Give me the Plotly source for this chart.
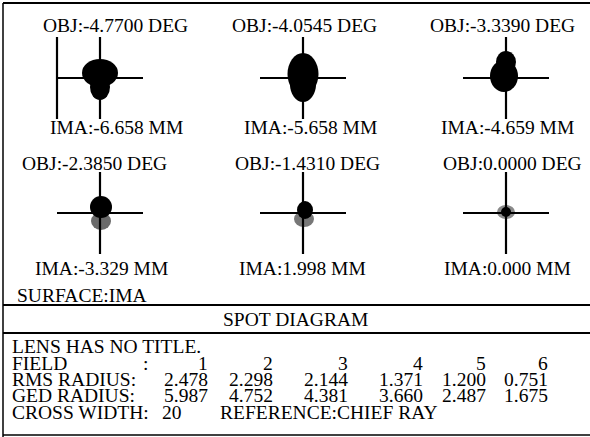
import plotly.graph_objects as go

# ---------------- data ----------------
fields = [1, 2, 3, 4, 5, 6]
obj_deg = [-4.7700, -4.0545, -3.3390, -2.3850, -1.4310, 0.0000]
ima_mm = [-6.658, -5.658, -4.659, -3.329, 1.998, 0.000]
rms_radius = [2.478, 2.298, 2.144, 1.371, 1.200, 0.751]
ged_radius = [5.987, 4.752, 4.381, 3.660, 2.487, 1.675]
cross_width = 20
reference = "CHIEF RAY"
surface = "IMA"

# spot clouds approximated as ellipses (plot units, y up), core + secondary part
core_dx = [0, 0, -2, 1, 2, 0]
core_dy = [5, 4, 2, 6, 3, 1]
core_rx = [18, 15.5, 14, 11, 8, 5]
core_ry = [14, 21, 16, 11, 9, 5]
sec_dx = [0, 0, 0, 1, 1, 0]
sec_dy = [-9, -6, 16, -8, -6, 1]
sec_rx = [10, 13, 10, 10, 10, 9]
sec_ry = [13, 18, 11, 9, 8, 7]
cross_half_h = 43
cross_half_v = 41

# ---------------- layout constants ----------------
W, H = 590, 437
FONT = "Liberation Serif"
FS = 19.5
COL_X = [100, 303, 506]
ROW_Y = [78, 213]
TITLE_X = [115, 304, 502, 95, 307, 512]
IMA_X = [116, 310, 507, 101, 302, 507]
TITLE_Y = [25, 163]
IMA_Y = [128, 268]
sec_color = ["black", "black", "black", "#6a6a6a", "#777777", "#8a8a8a"]
HALF = 50  # half size of each spot panel in px (1 unit = 1 px)


def px(x):
    return x / W


def py(y):
    return 1 - y / H


fig = go.Figure()
shapes = []
annotations = []
tfont = dict(family=FONT, size=FS, color="black")

for i, f in enumerate(fields):
    r, c = divmod(i, 3)
    cx, cy = COL_X[c], ROW_Y[r]
    n = "" if i == 0 else str(i + 1)
    xa, ya = "x" + n, "y" + n
    fig.layout["xaxis" + n] = dict(
        domain=[px(cx - HALF), px(cx + HALF)], range=[-HALF, HALF],
        visible=False, anchor=ya, fixedrange=True)
    fig.layout["yaxis" + n] = dict(
        domain=[py(cy + HALF), py(cy - HALF)], range=[-HALF, HALF],
        visible=False, anchor=xa, fixedrange=True)
    shapes.append(dict(type="circle", xref=xa, yref=ya,
                       x0=sec_dx[i] - sec_rx[i], x1=sec_dx[i] + sec_rx[i],
                       y0=sec_dy[i] - sec_ry[i], y1=sec_dy[i] + sec_ry[i],
                       fillcolor=sec_color[i], line=dict(width=0), layer="below"))
    shapes.append(dict(type="circle", xref=xa, yref=ya,
                       x0=core_dx[i] - core_rx[i], x1=core_dx[i] + core_rx[i],
                       y0=core_dy[i] - core_ry[i], y1=core_dy[i] + core_ry[i],
                       fillcolor="black", line=dict(width=0), layer="below"))
    xs = [-cross_half_h, cross_half_h, None, 0, 0]
    ys = [0, 0, None, -cross_half_v, cross_half_v]
    if i == 0:
        xs += [None, -cross_half_h, -cross_half_h]
        ys += [None, -cross_half_v, cross_half_v]
    fig.add_trace(go.Scatter(x=xs, y=ys, mode="lines", xaxis=xa, yaxis=ya,
                             line=dict(color="black", width=2.2),
                             hoverinfo="skip", showlegend=False))
    annotations.append(dict(text=f"OBJ:{obj_deg[i]:.4f} DEG", x=px(TITLE_X[i]),
                            y=py(TITLE_Y[r]), xref="paper", yref="paper", font=tfont,
                            xanchor="center", yanchor="middle", showarrow=False))
    annotations.append(dict(text=f"IMA:{ima_mm[i]:.3f} MM", x=px(IMA_X[i]),
                            y=py(IMA_Y[r]), xref="paper", yref="paper", font=tfont,
                            xanchor="center", yanchor="middle", showarrow=False))


def txt(s, x, y, anchor="left"):
    annotations.append(dict(text=s, x=px(x), y=py(y), xref="paper", yref="paper",
                            font=tfont, xanchor=anchor, yanchor="middle",
                            showarrow=False))


txt(f"SURFACE:{surface}", 15, 295)
txt("SPOT DIAGRAM", 295, 319, "center")
txt("LENS HAS NO TITLE.", 10, 346)
ROWS_Y = [363, 379, 395]
COLS_R = [210, 275, 350, 425, 488, 550]
txt("FIELD", 10, ROWS_Y[0])
txt(":", 141, ROWS_Y[0])
txt("RMS RADIUS:", 10, ROWS_Y[1])
txt("GED RADIUS:", 10, ROWS_Y[2])
for j in range(len(fields)):
    txt(str(fields[j]), COLS_R[j], ROWS_Y[0], "right")
    txt(f"{rms_radius[j]:.3f}", COLS_R[j], ROWS_Y[1], "right")
    txt(f"{ged_radius[j]:.3f}", COLS_R[j], ROWS_Y[2], "right")
txt("CROSS WIDTH:", 10, 412)
txt(str(cross_width), 160, 412)
txt(f"REFERENCE:{reference}", 218, 412)


def hline(y, x0, x1, w):
    shapes.append(dict(type="line", xref="paper", yref="paper",
                       x0=px(x0), x1=px(x1), y0=py(y), y1=py(y),
                       line=dict(color="black", width=w)))


def vline(x, y0, y1, w):
    shapes.append(dict(type="line", xref="paper", yref="paper",
                       x0=px(x), x1=px(x), y0=py(y0), y1=py(y1),
                       line=dict(color="black", width=w)))


hline(3, 3, 590, 2)
hline(305, 3, 590, 2)
hline(333, 3, 590, 2)
hline(435, 3, 590, 1.5)
vline(3, 3, 437, 1.5)

fig.update_layout(
    width=W, height=H, margin=dict(l=0, r=0, t=0, b=0),
    paper_bgcolor="white", plot_bgcolor="white",
    font=dict(family=FONT, size=FS, color="black"),
    shapes=shapes, annotations=annotations, showlegend=False,
)
fig.write_html("out.html", config={"displayModeBar": False},
               post_script="document.body.style.margin='0';"
                           "document.body.style.overflow='hidden';")
